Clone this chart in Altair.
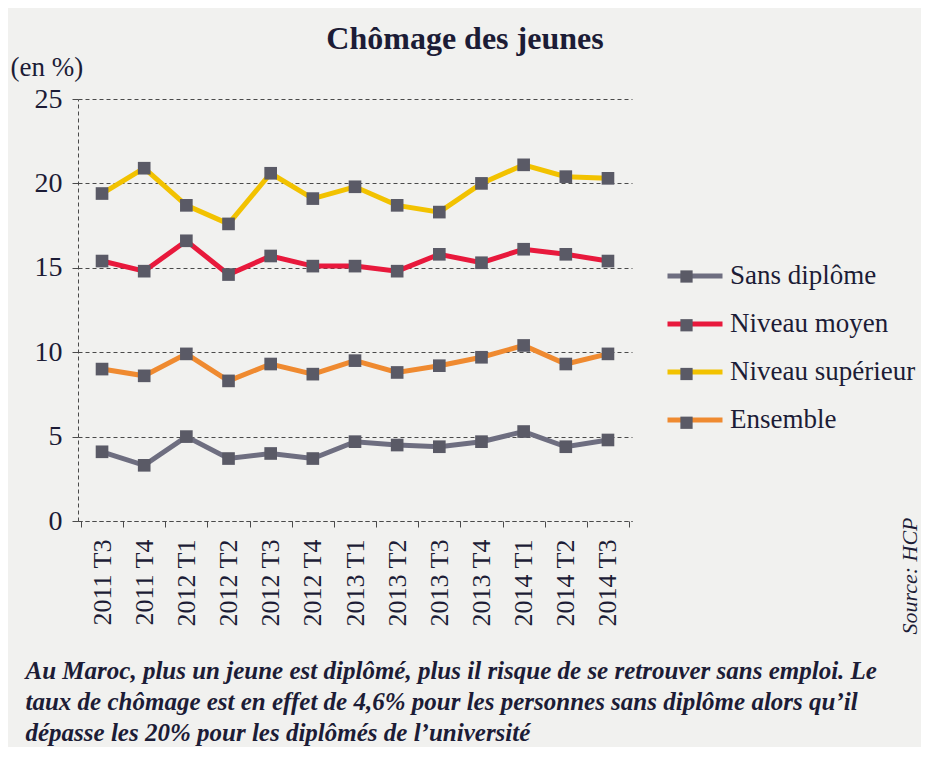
import altair as alt
import pandas as pd

periods = ["2011 T3", "2011 T4", "2012 T1", "2012 T2", "2012 T3", "2012 T4", "2013 T1",
           "2013 T2", "2013 T3", "2013 T4", "2014 T1", "2014 T2", "2014 T3"]
sans_diplome = [4.1, 3.3, 5.0, 3.7, 4.0, 3.7, 4.7, 4.5, 4.4, 4.7, 5.3, 4.4, 4.8]
niveau_moyen = [15.4, 14.8, 16.6, 14.6, 15.7, 15.1, 15.1, 14.8, 15.8, 15.3, 16.1, 15.8, 15.4]
niveau_superieur = [19.4, 20.9, 18.7, 17.6, 20.6, 19.1, 19.8, 18.7, 18.3, 20.0, 21.1, 20.4, 20.3]
ensemble = [9.0, 8.6, 9.9, 8.3, 9.3, 8.7, 9.5, 8.8, 9.2, 9.7, 10.4, 9.3, 9.9]

series = ["Sans diplôme", "Niveau moyen", "Niveau supérieur", "Ensemble"]
colors = ["#6e6e80", "#e8193c", "#f2c200", "#ef8a30"]
y_ticks = [0, 5, 10, 15, 20, 25]
caption = [
    "Au Maroc, plus un jeune est diplômé, plus il risque de se retrouver sans emploi. Le",
    "taux de chômage est en effet  de 4,6% pour les personnes sans diplôme alors qu\u2019il",
    "dépasse les 20% pour les diplômés de l\u2019université",
]

values_by_series = [sans_diplome, niveau_moyen, niveau_superieur, ensemble]
rows = []
for s, vals in zip(series, values_by_series):
    for p, v in zip(periods, vals):
        rows.append({"periode": p, "serie": s, "taux": v})
df = pd.DataFrame(rows)

FONT = "Liberation Serif, Times New Roman, Times, serif"
TEXT = "#1c1c36"
MARKER = "#5a5a66"
GRID = "#4a4a4a"

x_enc = alt.X(
    "periode:N", sort=periods,
    scale=alt.Scale(type="band", paddingInner=0, paddingOuter=0.07),
    axis=alt.Axis(
        labelAngle=-90, labelFont=FONT, labelFontSize=26, labelColor=TEXT, labelPadding=12,
        tickBand="extent", tickSize=6, tickColor=GRID, grid=False,
        domainDash=[4, 3], domainColor=GRID,
        title=caption, titleFont=FONT, titleFontSize=25, titleFontStyle="italic",
        titleFontWeight="bold", titleColor=TEXT, titleAlign="left", titleAnchor="start",
        titleBaseline="alphabetic", titleX=-53, titleY=157, titleLineHeight=31, titleAngle=0,
    ),
)
y_enc = alt.Y(
    "taux:Q", scale=alt.Scale(domain=[0, 25]),
    axis=alt.Axis(
        values=y_ticks, grid=True, gridDash=[4, 3], gridColor=GRID, gridWidth=1,
        domainDash=[4, 3], domainColor=GRID, tickSize=6, tickColor=GRID,
        labelFont=FONT, labelFontSize=28, labelColor=TEXT, labelPadding=10,
        title="(en %)", titleFont=FONT, titleFontSize=27, titleFontWeight="normal",
        titleColor=TEXT, titleAngle=0, titleAlign="left", titleBaseline="alphabetic",
        titleX=-68, titleY=-24,
    ),
)

base = alt.Chart(df)

lines = base.mark_line(strokeWidth=5).encode(
    x=x_enc, y=y_enc,
    color=alt.Color(
        "serie:N", scale=alt.Scale(domain=series, range=colors),
        legend=alt.Legend(
            orient="none", legendX=587, legendY=147, title=None,
            symbolType="stroke", symbolSize=3025, symbolStrokeWidth=5,
            labelFont=FONT, labelFontSize=27, labelColor=TEXT, labelOffset=5,
            rowPadding=5, labelLimit=400,
        ),
    ),
)

points = base.transform_calculate(s2="datum.serie").mark_point(
    filled=True, size=160, shape="square", opacity=1
).encode(
    x=x_enc, y=y_enc,
    color=alt.value(MARKER),
    shape=alt.Shape(
        "s2:N", sort=series, scale=alt.Scale(range=["square"] * 4),
        legend=alt.Legend(
            orient="none", legendX=602, legendY=171, title=None,
            symbolType="square", symbolSize=150, symbolFillColor=MARKER,
            symbolStrokeWidth=0, symbolOpacity=1,
            labelExpr="''", labelFontSize=1, labelOffset=0,
            rowPadding=35.75,
        ),
    ),
)

source = alt.Chart(alt.Data(values=[{"t": "Source: HCP"}])).mark_text(
    angle=270, font=FONT, fontStyle="italic", fontSize=22, color=TEXT,
    align="center", baseline="middle",
).encode(text="t:N", x=alt.value(832), y=alt.value(477))

chart = alt.layer(lines, points, source).properties(
    width=554, height=422,
    autosize=alt.AutoSizeParams(type="none"),
    padding={"left": 70, "top": 91, "right": 289, "bottom": 226},
    background="#f1f1ef",
    title=alt.Title(
        "Chômage des jeunes", font=FONT, fontSize=32, fontWeight="bold", color=TEXT,
        anchor="middle", frame="group", dx=110, offset=-28, baseline="alphabetic",
    ),
).configure_view(stroke=None)

chart.save("out.html", embed_options={"renderer": "svg", "actions": False})
